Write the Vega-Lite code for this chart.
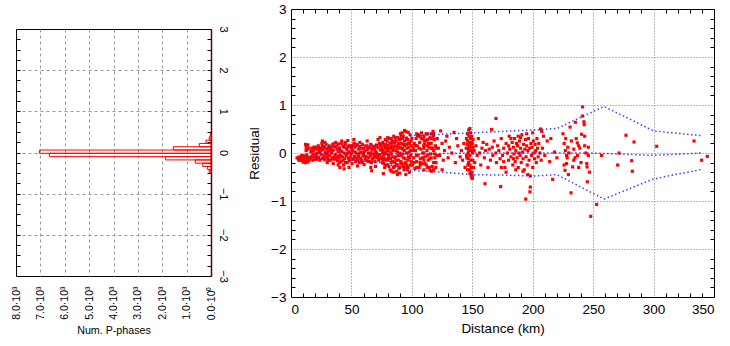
{
"$schema": "https://vega.github.io/schema/vega-lite/v6.json",
"background": "white",
"padding": {"left": 10, "top": 1, "right": 5, "bottom": 0},
"spacing": 18,
"config": {
  "font": "Liberation Sans",
  "view": {"stroke": "black", "strokeWidth": 1},
  "axis": {"labelFont": "Liberation Sans", "titleFont": "Liberation Sans", "titleFontWeight": "normal", "labelColor": "black", "titleColor": "black", "tickColor": "black", "gridOpacity": 1, "minExtent": 0}
},
"datasets": {
  "hist": [
    {"lo": 0.38, "hi": 0.46, "n": 30},
    {"lo": 0.30, "hi": 0.38, "n": 70},
    {"lo": 0.22, "hi": 0.30, "n": 205},
    {"lo": 0.14, "hi": 0.22, "n": 480},
    {"lo": 0.06, "hi": 0.14, "n": 1545},
    {"lo": -0.02, "hi": 0.06, "n": 7040},
    {"lo": -0.10, "hi": -0.02, "n": 6630},
    {"lo": -0.18, "hi": -0.10, "n": 1870},
    {"lo": -0.26, "hi": -0.18, "n": 645},
    {"lo": -0.34, "hi": -0.26, "n": 340},
    {"lo": -0.42, "hi": -0.34, "n": 137},
    {"lo": -0.50, "hi": -0.42, "n": 68}
  ],
  "lines": [
    {"s": "u", "d": 20, "r": 0.12}, {"s": "u", "d": 50, "r": 0.13}, {"s": "u", "d": 75, "r": 0.2}, {"s": "u", "d": 100, "r": 0.36}, {"s": "u", "d": 125, "r": 0.39}, {"s": "u", "d": 150, "r": 0.42}, {"s": "u", "d": 175, "r": 0.45}, {"s": "u", "d": 200, "r": 0.48}, {"s": "u", "d": 220, "r": 0.51}, {"s": "u", "d": 259, "r": 0.97}, {"s": "u", "d": 300, "r": 0.46}, {"s": "u", "d": 340, "r": 0.36},
    {"s": "m", "d": 20, "r": 0.0}, {"s": "m", "d": 50, "r": -0.01}, {"s": "m", "d": 100, "r": -0.02}, {"s": "m", "d": 150, "r": 0.0}, {"s": "m", "d": 200, "r": 0.0}, {"s": "m", "d": 250, "r": 0.0}, {"s": "m", "d": 300, "r": -0.05}, {"s": "m", "d": 340, "r": 0.0},
    {"s": "l", "d": 20, "r": -0.12}, {"s": "l", "d": 50, "r": -0.15}, {"s": "l", "d": 75, "r": -0.2}, {"s": "l", "d": 100, "r": -0.36}, {"s": "l", "d": 125, "r": -0.4}, {"s": "l", "d": 150, "r": -0.45}, {"s": "l", "d": 175, "r": -0.46}, {"s": "l", "d": 200, "r": -0.48}, {"s": "l", "d": 220, "r": -0.45}, {"s": "l", "d": 259, "r": -0.96}, {"s": "l", "d": 300, "r": -0.54}, {"s": "l", "d": 340, "r": -0.34}
  ],
  "pts": [
{"d":5,"r":-0.1},{"d":6,"r":-0.12},{"d":7,"r":-0.08},{"d":7.5,"r":-0.14},{"d":8,"r":-0.1},{"d":8.5,"r":-0.15},{"d":9,"r":-0.12},{"d":9.5,"r":-0.07},{"d":10,"r":-0.16},{"d":10.5,"r":-0.1},{"d":11,"r":-0.13},{"d":11.5,"r":-0.18},{"d":12,"r":-0.09},{"d":12.5,"r":-0.14},{"d":13,"r":-0.11},{"d":13.5,"r":-0.17},{"d":14,"r":-0.08},{"d":14.5,"r":-0.13},{"d":15,"r":-0.15},{"d":15.5,"r":-0.1},{"d":9,"r":-0.05},{"d":11,"r":-0.06},{"d":13,"r":-0.04},{"d":6.5,"r":-0.15},{"d":10,"r":-0.19},{"d":12,"r":-0.2},{"d":14,"r":-0.19},
{"d":12,"r":0.18},{"d":12.5,"r":0.12},{"d":13,"r":0.15},{"d":13.5,"r":0.08},{"d":14,"r":0.17},{"d":12.5,"r":0.05},{"d":15,"r":0.1},
{"d":16,"r":-0.12},{"d":16.5,"r":0.02},{"d":17,"r":-0.08},{"d":17.5,"r":0.1},{"d":18,"r":-0.15},{"d":18.5,"r":0.05},{"d":19,"r":-0.02},{"d":19.5,"r":-0.1},{"d":20,"r":0.12},{"d":20.5,"r":-0.05},{"d":21,"r":0.08},{"d":21.5,"r":-0.13},{"d":22,"r":0.0},{"d":22.5,"r":0.15},{"d":23,"r":-0.09},{"d":23.5,"r":0.05},{"d":24,"r":-0.15},{"d":24.5,"r":0.1},{"d":25,"r":-0.03},{"d":25.5,"r":0.2},{"d":26,"r":-0.11},{"d":26.5,"r":0.07},{"d":27,"r":-0.06},{"d":27.5,"r":0.13},{"d":28,"r":-0.14},{"d":28.5,"r":0.02},{"d":29,"r":0.18},{"d":29.5,"r":-0.08},{"d":30,"r":0.09},{"d":30.5,"r":-0.12},{"d":31,"r":0.04},{"d":31.5,"r":0.15},{"d":32,"r":-0.05},{"d":32.5,"r":-0.15},{"d":33,"r":0.11},{"d":33.5,"r":0.0},{"d":34,"r":-0.1},{"d":34.5,"r":0.17},{"d":35,"r":0.06},{"d":35.5,"r":-0.13},{"d":36,"r":0.13},{"d":36.5,"r":-0.03},{"d":37,"r":0.22},{"d":37.5,"r":-0.09},{"d":38,"r":0.08},{"d":38.5,"r":-0.16},{"d":39,"r":0.03},{"d":39.5,"r":0.19},
{"d":17,"r":0.04},{"d":19,"r":0.12},{"d":21,"r":-0.07},{"d":23,"r":0.1},{"d":25,"r":0.06},{"d":27,"r":-0.12},{"d":29,"r":-0.02},{"d":31,"r":-0.15},{"d":33,"r":0.07},{"d":35,"r":0.19},{"d":37,"r":-0.12},{"d":39,"r":-0.06},{"d":18,"r":-0.04},{"d":20,"r":-0.13},{"d":22,"r":-0.1},{"d":24,"r":0.02},{"d":26,"r":0.14},{"d":28,"r":0.1},{"d":30,"r":-0.02},{"d":32,"r":0.12},{"d":34,"r":0.04},{"d":36,"r":-0.08},{"d":38,"r":0.15},{"d":40,"r":-0.2},{"d":26,"r":0.25},{"d":28,"r":0.22},{"d":30,"r":-0.2},{"d":35,"r":-0.22},{"d":39,"r":-0.25},
{"d":40,"r":0.1},{"d":40.5,"r":-0.3},{"d":41,"r":0.05},{"d":41.5,"r":-0.18},{"d":42,"r":0.2},{"d":42.5,"r":-0.08},{"d":43,"r":0.14},{"d":43.5,"r":-0.25},{"d":44,"r":0.0},{"d":44.5,"r":-0.12},{"d":45,"r":0.18},{"d":45.5,"r":-0.05},{"d":46,"r":0.08},{"d":46.5,"r":-0.2},{"d":47,"r":0.12},{"d":47.5,"r":-0.1},{"d":48,"r":0.03},{"d":48.5,"r":-0.16},{"d":49,"r":0.15},{"d":49.5,"r":-0.04},{"d":50,"r":0.1},{"d":50.5,"r":-0.22},{"d":51,"r":0.05},{"d":51.5,"r":-0.13},{"d":52,"r":0.2},{"d":52.5,"r":-0.07},{"d":53,"r":0.12},{"d":53.5,"r":-0.18},{"d":54,"r":0.0},{"d":54.5,"r":-0.1},{"d":55,"r":0.16},{"d":55.5,"r":-0.03},{"d":56,"r":0.08},{"d":56.5,"r":-0.2},{"d":57,"r":0.13},{"d":57.5,"r":-0.11},{"d":58,"r":0.02},{"d":58.5,"r":-0.15},{"d":59,"r":0.18},{"d":59.5,"r":-0.06},{"d":60,"r":0.1},{"d":60.5,"r":-0.24},{"d":61,"r":0.04},{"d":61.5,"r":-0.12},{"d":62,"r":0.15},{"d":62.5,"r":-0.08},{"d":63,"r":0.07},{"d":63.5,"r":-0.17},{"d":64,"r":0.0},{"d":64.5,"r":-0.1},{"d":65,"r":0.12},{"d":65.5,"r":-0.05},{"d":66,"r":0.18},{"d":66.5,"r":-0.2},{"d":67,"r":0.06},{"d":67.5,"r":-0.13},{"d":68,"r":0.14},{"d":68.5,"r":-0.02},{"d":69,"r":0.09},{"d":69.5,"r":-0.18},{"d":70,"r":0.03},{"d":70.5,"r":-0.1},{"d":71,"r":0.16},{"d":71.5,"r":-0.07},{"d":72,"r":0.11},{"d":72.5,"r":-0.15},{"d":73,"r":0.2},{"d":73.5,"r":-0.04},{"d":74,"r":0.06},{"d":74.5,"r":-0.12},
{"d":40,"r":-0.1},{"d":41,"r":-0.05},{"d":42,"r":0.03},{"d":43,"r":-0.15},{"d":44,"r":0.12},{"d":45,"r":-0.2},{"d":46,"r":-0.02},{"d":47,"r":0.0},{"d":48,"r":0.15},{"d":49,"r":-0.1},{"d":50,"r":0.0},{"d":51,"r":0.15},{"d":52,"r":-0.12},{"d":53,"r":0.02},{"d":54,"r":0.18},{"d":55,"r":-0.15},{"d":56,"r":-0.08},{"d":57,"r":0.0},{"d":58,"r":0.1},{"d":59,"r":-0.2},{"d":60,"r":0.0},{"d":61,"r":-0.06},{"d":62,"r":-0.15},{"d":63,"r":0.12},{"d":64,"r":0.1},{"d":65,"r":-0.18},{"d":66,"r":0.0},{"d":67,"r":0.1},{"d":68,"r":-0.1},{"d":69,"r":-0.05},{"d":70,"r":0.14},{"d":71,"r":0.0},{"d":72,"r":-0.05},{"d":73,"r":-0.1},{"d":74,"r":0.16},{"d":42,"r":0.25},{"d":45,"r":0.22},{"d":48,"r":-0.3},{"d":52,"r":0.28},{"d":57,"r":0.22},{"d":63,"r":0.25},{"d":66,"r":-0.3},{"d":70,"r":-0.28},{"d":72,"r":0.28},{"d":55,"r":-0.27},{"d":44,"r":-0.33},{"d":47,"r":0.26},{"d":66.7,"r":-0.37},{"d":76.4,"r":-0.43},{"d":73.6,"r":0.32},
{"d":75,"r":0.1},{"d":75.5,"r":-0.2},{"d":76,"r":0.22},{"d":76.5,"r":-0.05},{"d":77,"r":0.15},{"d":77.5,"r":-0.3},{"d":78,"r":0.0},{"d":78.5,"r":0.18},{"d":79,"r":-0.12},{"d":79.5,"r":0.25},{"d":80,"r":-0.25},{"d":80.5,"r":0.08},{"d":81,"r":-0.1},{"d":81.5,"r":0.3},{"d":82,"r":-0.35},{"d":82.5,"r":0.12},{"d":83,"r":-0.02},{"d":83.5,"r":0.22},{"d":84,"r":-0.18},{"d":84.5,"r":0.05},{"d":85,"r":0.35},{"d":85.5,"r":-0.28},{"d":86,"r":0.15},{"d":86.5,"r":-0.08},{"d":87,"r":0.25},{"d":87.5,"r":-0.38},{"d":88,"r":0.02},{"d":88.5,"r":0.32},{"d":89,"r":-0.15},{"d":89.5,"r":0.1},{"d":90,"r":-0.3},{"d":90.5,"r":0.4},{"d":91,"r":-0.05},{"d":91.5,"r":0.2},{"d":92,"r":-0.22},{"d":92.5,"r":0.08},{"d":93,"r":0.35},{"d":93.5,"r":-0.35},{"d":94,"r":0.15},{"d":94.5,"r":-0.12},{"d":95,"r":0.45},{"d":95.5,"r":0.0},{"d":96,"r":-0.25},{"d":96.5,"r":0.28},{"d":97,"r":-0.08},{"d":97.5,"r":0.12},{"d":98,"r":-0.4},{"d":98.5,"r":0.38},{"d":99,"r":0.05},{"d":99.5,"r":-0.18},
{"d":75,"r":-0.1},{"d":76,"r":0.05},{"d":77,"r":-0.12},{"d":78,"r":0.28},{"d":79,"r":-0.02},{"d":80,"r":0.15},{"d":81,"r":-0.28},{"d":82,"r":0.02},{"d":83,"r":0.3},{"d":84,"r":-0.08},{"d":85,"r":0.12},{"d":86,"r":-0.2},{"d":87,"r":0.05},{"d":88,"r":-0.25},{"d":89,"r":0.2},{"d":90,"r":0.0},{"d":91,"r":-0.18},{"d":92,"r":0.3},{"d":93,"r":-0.1},{"d":94,"r":0.25},{"d":95,"r":-0.2},{"d":96,"r":0.1},{"d":97,"r":-0.3},{"d":98,"r":0.2},{"d":99,"r":-0.05},{"d":100,"r":0.3},
{"d":75.8,"r":0.0},{"d":76.8,"r":-0.22},{"d":77.8,"r":0.1},{"d":78.8,"r":-0.15},{"d":79.8,"r":0.05},{"d":80.8,"r":-0.05},{"d":81.8,"r":0.2},{"d":82.8,"r":-0.2},{"d":83.8,"r":0.08},{"d":84.8,"r":-0.3},{"d":85.8,"r":0.22},{"d":86.8,"r":-0.15},{"d":87.8,"r":0.12},{"d":88.8,"r":-0.05},{"d":89.8,"r":0.28},{"d":90.8,"r":-0.22},{"d":91.8,"r":0.1},{"d":92.8,"r":-0.28},{"d":93.8,"r":0.05},{"d":94.8,"r":-0.3},{"d":95.8,"r":0.18},{"d":96.8,"r":-0.15},{"d":97.8,"r":0.02},{"d":98.8,"r":-0.25},{"d":99.8,"r":0.15},
{"d":75.3,"r":0.18},{"d":76.3,"r":-0.15},{"d":77.3,"r":0.02},{"d":78.3,"r":-0.25},{"d":79.3,"r":0.12},{"d":80.3,"r":-0.15},{"d":81.3,"r":0.1},{"d":82.3,"r":-0.12},{"d":83.3,"r":0.15},{"d":84.3,"r":0.25},{"d":85.3,"r":-0.1},{"d":86.3,"r":0.32},{"d":87.3,"r":-0.25},{"d":88.3,"r":0.15},{"d":89.3,"r":-0.32},{"d":90.3,"r":0.12},{"d":91.3,"r":0.35},{"d":92.3,"r":-0.02},{"d":93.3,"r":0.18},{"d":94.3,"r":-0.22},{"d":95.3,"r":0.3},{"d":96.3,"r":-0.35},{"d":97.3,"r":0.2},{"d":98.3,"r":-0.1},{"d":99.3,"r":0.25},
{"d":85,"r":-0.4},{"d":90,"r":-0.42},{"d":92,"r":0.42},{"d":94,"r":0.47},{"d":97,"r":0.43},{"d":88,"r":-0.45},{"d":95,"r":-0.45},{"d":80,"r":0.32},{"d":83,"r":-0.38},
{"d":100.5,"r":-0.25},{"d":101,"r":0.1},{"d":101.5,"r":-0.1},{"d":102,"r":0.2},{"d":102.5,"r":-0.32},{"d":103,"r":0.05},{"d":103.5,"r":0.3},{"d":104,"r":-0.18},{"d":104.5,"r":0.15},{"d":105,"r":-0.05},{"d":105.5,"r":0.38},{"d":106,"r":-0.3},{"d":106.5,"r":0.22},{"d":107,"r":-0.12},{"d":107.5,"r":0.08},{"d":108,"r":0.42},{"d":108.5,"r":-0.22},{"d":109,"r":0.0},{"d":109.5,"r":0.3},{"d":110,"r":-0.35},{"d":110.5,"r":0.18},{"d":111,"r":-0.08},{"d":111.5,"r":0.25},{"d":112,"r":-0.25},{"d":112.5,"r":0.05},{"d":113,"r":0.4},{"d":113.5,"r":-0.15},{"d":114,"r":0.12},{"d":114.5,"r":-0.3},{"d":115,"r":0.32},{"d":115.5,"r":-0.02},{"d":116,"r":0.2},{"d":116.5,"r":-0.38},{"d":117,"r":0.1},{"d":117.5,"r":0.45},{"d":118,"r":-0.2},{"d":118.5,"r":0.28},{"d":119,"r":-0.1},{"d":119.5,"r":0.15},
{"d":100.8,"r":0.05},{"d":101.8,"r":-0.2},{"d":102.8,"r":0.15},{"d":103.8,"r":-0.05},{"d":104.8,"r":0.35},{"d":105.8,"r":0.1},{"d":106.8,"r":-0.2},{"d":107.8,"r":0.3},{"d":108.8,"r":-0.1},{"d":109.8,"r":0.15},{"d":110.8,"r":-0.22},{"d":111.8,"r":0.4},{"d":112.8,"r":-0.05},{"d":113.8,"r":0.2},{"d":114.8,"r":-0.12},{"d":115.8,"r":0.1},{"d":116.8,"r":-0.28},{"d":117.8,"r":0.35},{"d":118.8,"r":-0.02},{"d":119.8,"r":-0.3},
{"d":110,"r":0.0},{"d":110,"r":0.1},{"d":110,"r":-0.15},{"d":110,"r":0.35},{"d":110.2,"r":0.25},{"d":113,"r":-0.3},{"d":113,"r":0.15},{"d":113,"r":0.28},{"d":116,"r":0.4},{"d":116,"r":-0.1},{"d":116,"r":0.3},{"d":118,"r":0.05},{"d":118,"r":-0.35},{"d":118,"r":0.4},{"d":107,"r":0.35},{"d":107,"r":-0.25},{"d":104,"r":0.4},{"d":104,"r":-0.3},{"d":120,"r":0.1},{"d":120,"r":-0.2},{"d":121,"r":0.3},{"d":121,"r":-0.05},{"d":115,"r":-0.36},
{"d":122,"r":0.1},{"d":123,"r":-0.05},{"d":123.8,"r":0.46},{"d":125,"r":0.2},{"d":126,"r":-0.15},{"d":127,"r":0.05},{"d":128,"r":0.25},{"d":130,"r":-0.1},{"d":131,"r":0.12},{"d":133,"r":0.0},{"d":134.9,"r":0.43},{"d":136,"r":-0.2},{"d":138,"r":0.15},{"d":140,"r":-0.08},{"d":141,"r":0.05},{"d":143,"r":0.2},{"d":144,"r":-0.3},{"d":125,"r":-0.35},{"d":129,"r":0.35},{"d":137,"r":0.3},{"d":142,"r":-0.15},
{"d":145,"r":0.1},{"d":145.5,"r":-0.1},{"d":146,"r":0.25},{"d":146.5,"r":0.0},{"d":147,"r":-0.2},{"d":147.5,"r":0.15},{"d":148,"r":-0.05},{"d":148.5,"r":0.3},{"d":149,"r":-0.3},{"d":149.5,"r":0.05},{"d":150,"r":0.2},{"d":150.5,"r":-0.15},{"d":145.3,"r":-0.05},{"d":145.8,"r":0.18},{"d":146.3,"r":-0.25},{"d":146.8,"r":0.1},{"d":147.3,"r":0.35},{"d":147.8,"r":-0.35},{"d":148.3,"r":0.05},{"d":148.8,"r":-0.15},{"d":149.3,"r":0.22},{"d":149.8,"r":-0.4},{"d":150.3,"r":0.0},{"d":150.8,"r":0.12},{"d":146,"r":0.4},{"d":147,"r":0.48},{"d":148,"r":-0.42},{"d":149,"r":-0.45},{"d":150,"r":-0.48},{"d":148.5,"r":0.42},{"d":149.2,"r":-0.5},{"d":147.7,"r":0.22},{"d":146.7,"r":-0.12},{"d":145.2,"r":0.3},{"d":149.6,"r":0.35},{"d":148.1,"r":-0.25},{"d":147.1,"r":0.05},{"d":146.1,"r":-0.35},{"d":150.6,"r":0.28},{"d":151,"r":-0.3},{"d":149,"r":0.12},{"d":148,"r":0.15},{"d":150,"r":-0.53},{"d":148,"r":0.51},
{"d":151.5,"r":0.05},{"d":152,"r":-0.2},{"d":153,"r":0.15},{"d":154,"r":-0.05},{"d":155,"r":0.3},{"d":156,"r":0.0},{"d":157,"r":-0.25},{"d":158,"r":0.1},{"d":159,"r":0.22},{"d":160,"r":-0.1},{"d":160.5,"r":-0.64},{"d":161,"r":0.05},{"d":162,"r":0.18},{"d":163,"r":-0.3},{"d":164,"r":0.08},{"d":165,"r":-0.15},{"d":166,"r":0.49},{"d":166.5,"r":0.12},{"d":167,"r":-0.05},{"d":168,"r":0.25},{"d":169.6,"r":0.72},{"d":169.5,"r":0.0},{"d":170,"r":-0.2},{"d":171,"r":0.15},{"d":172,"r":0.05},{"d":173,"r":-0.12},{"d":173.5,"r":-0.7},{"d":174,"r":0.3},{"d":175,"r":-0.05},{"d":176,"r":0.1},{"d":177,"r":-0.3},{"d":178,"r":0.2},{"d":179,"r":0.0},{"d":180,"r":-0.15},{"d":180.5,"r":0.35},{"d":181,"r":0.08},{"d":182,"r":-0.08},{"d":183,"r":0.22},{"d":183.5,"r":-0.25},{"d":184,"r":0.12},{"d":184.5,"r":-0.02},{"d":185,"r":0.3},{"d":185.5,"r":-0.18},{"d":186,"r":0.05},{"d":186.5,"r":0.2},{"d":187,"r":-0.1},{"d":187.5,"r":0.15},{"d":188,"r":-0.3},{"d":188.5,"r":0.0},{"d":189,"r":0.25},{"d":189.5,"r":-0.05},{"d":190,"r":0.1},{"d":190.5,"r":-0.2},{"d":191,"r":0.38},{"d":191.5,"r":0.02},{"d":192,"r":-0.12},{"d":192.5,"r":0.18},{"d":193,"r":-0.35},{"d":193.5,"r":0.08},{"d":194,"r":0.28},{"d":194.2,"r":-0.96},{"d":194.5,"r":-0.08},{"d":195,"r":0.15},{"d":195.5,"r":-0.25},{"d":196,"r":0.05},{"d":196.5,"r":0.3},{"d":197,"r":-0.15},{"d":197.5,"r":0.1},{"d":197.7,"r":-0.81},{"d":198,"r":-0.71},{"d":198.5,"r":0.2},{"d":199,"r":-0.05},{"d":199.5,"r":0.12},{"d":200,"r":-0.3},{"d":200.5,"r":0.25},{"d":201,"r":0.0},{"d":201.5,"r":-0.12},{"d":202,"r":0.18},{"d":202.5,"r":0.05},{"d":203,"r":-0.2},{"d":203.5,"r":0.3},{"d":204,"r":0.1},{"d":204.5,"r":-0.08},{"d":205,"r":0.2},{"d":206,"r":0.0},{"d":206.5,"r":0.5},{"d":207,"r":-0.15},{"d":207.5,"r":0.45},{"d":208,"r":0.1},{"d":209,"r":0.35},{"d":210,"r":-0.05},{"d":212,"r":0.25},{"d":214,"r":-0.18},{"d":215,"r":0.3},{"d":216.5,"r":-0.55},
{"d":176,"r":-0.18},{"d":178,"r":-0.4},{"d":182,"r":0.3},{"d":186,"r":-0.35},{"d":190,"r":0.32},{"d":195,"r":0.4},{"d":198,"r":-0.48},{"d":200,"r":0.42},{"d":196,"r":-0.45},{"d":192,"r":-0.38},{"d":188,"r":0.35},{"d":184,"r":-0.12},{"d":180,"r":0.15},{"d":174,"r":-0.3},
{"d":218,"r":0.02},{"d":220,"r":-0.1},{"d":225,"r":0.4},{"d":226,"r":0.2},{"d":226.7,"r":-0.36},{"d":227,"r":0.05},{"d":227.3,"r":0.3},{"d":228,"r":-0.22},{"d":228.5,"r":-0.1},{"d":229,"r":0.12},{"d":229.5,"r":-0.45},{"d":230,"r":0.0},{"d":230.9,"r":0.54},{"d":231.7,"r":-0.83},{"d":232,"r":0.25},{"d":233,"r":-0.29},{"d":234,"r":0.08},{"d":235,"r":-0.1},{"d":235.3,"r":0.64},{"d":236,"r":0.3},{"d":236.9,"r":0.21},{"d":237,"r":-0.05},{"d":238,"r":0.15},{"d":239,"r":0.1},{"d":240,"r":-0.2},{"d":240.5,"r":0.39},{"d":241.1,"r":0.77},{"d":241.3,"r":0.96},{"d":242.4,"r":0.65},{"d":242.6,"r":0.59},{"d":243,"r":0.15},{"d":244,"r":0.0},{"d":244.7,"r":-0.22},{"d":245,"r":-0.29},{"d":245.2,"r":-0.6},{"d":246,"r":0.12},{"d":247,"r":-0.4},{"d":248,"r":-1.32},{"d":226,"r":-0.25},{"d":228,"r":-0.05},{"d":234,"r":-0.15},{"d":238,"r":-0.3},{"d":243,"r":0.35},{"d":246,"r":-0.05},
{"d":252.9,"r":-1.07},{"d":257,"r":-0.05},{"d":270.3,"r":-0.25},{"d":271.4,"r":0.0},{"d":277.2,"r":0.37},{"d":281.9,"r":-0.16},{"d":282.4,"r":-0.38},{"d":283.8,"r":0.23},{"d":302.6,"r":0.14},{"d":333.5,"r":0.25},{"d":339.8,"r":-0.15},{"d":344.5,"r":-0.07}
  ]
},
"hconcat": [
  {
    "spacing": 0,
    "vconcat": [
      {
        "width": 195,
        "height": 16,
        "view": {"stroke": null},
        "data": {"values": [{}]},
        "mark": {"type": "point", "opacity": 0}
      },
      {
        "width": 195,
        "height": 247,
        "layer": [
          {
            "data": {"name": "hist"},
            "mark": {"type": "rect", "stroke": "red", "strokeWidth": 1, "fillOpacity": 0, "fill": "white"},
            "encoding": {
              "x": {"field": "n", "type": "quantitative",
                    "scale": {"domain": [0, 8000], "reverse": true, "nice": false},
                    "axis": {"orient": "bottom", "values": [0,1000,2000,3000,4000,5000,6000,7000,8000],
                             "labelExpr": "datum.value == 0 ? '0.0·10⁰' : format(datum.value/1000, '.1f') + '·10³'",
                             "labelAngle": 270, "labelFontSize": 10.5, "labelPadding": 10, "labelOverlap": false, "labelBound": false, "ticks": false,
                             "grid": true, "gridDash": [3, 3], "gridColor": "#999999",
                             "gridOpacity": {"condition": {"test": "datum.value == 0 || datum.value == 8000", "value": 0}, "value": 1},
                             "domain": false,
                             "title": "Num. P-phases", "titleFontSize": 10.7, "titlePadding": 6}},
              "x2": {"datum": 0},
              "y": {"field": "lo", "type": "quantitative",
                    "scale": {"domain": [-3, 3], "nice": false},
                    "axis": {"orient": "right", "values": [-3,-2,-1,0,1,2,3], "labelAngle": 90, "labelFontSize": 11,
                             "labelPadding": 6, "ticks": false, "grid": true, "gridDash": [3, 3], "gridColor": "#999999",
                             "gridOpacity": {"condition": {"test": "abs(datum.value) == 3", "value": 0}, "value": 1},
                             "domain": true, "domainColor": "#5c0000", "domainWidth": 1.5, "title": null}},
              "y2": {"field": "hi"}
            }
          },
          {
            "data": {"name": "hist"},
            "mark": {"type": "point", "opacity": 0},
            "encoding": {
              "x": {"field": "n", "type": "quantitative", "axis": null},
              "y": {"field": "lo", "type": "quantitative",
                    "axis": {"orient": "right", "offset": -195, "values": [-2.75,-2.5,-2.25,-2,-1.75,-1.5,-1.25,-1,-0.75,-0.5,-0.25,0,0.25,0.5,0.75,1,1.25,1.5,1.75,2,2.25,2.5,2.75],
                             "labels": false, "grid": false, "domain": false, "tickSize": 4, "title": null}}
            }
          },
          {
            "data": {"name": "hist"},
            "mark": {"type": "point", "opacity": 0},
            "encoding": {
              "x": {"field": "n", "type": "quantitative", "axis": null},
              "y": {"field": "lo", "type": "quantitative",
                    "axis": {"orient": "left", "offset": -195, "values": [-2.75,-2.5,-2.25,-2,-1.75,-1.5,-1.25,-1,-0.75,-0.5,-0.25,0,0.25,0.5,0.75,1,1.25,1.5,1.75,2,2.25,2.5,2.75],
                             "labels": false, "grid": false, "domain": false, "tickSize": 4, "title": null}}
            }
          }
        ],
        "resolve": {"axis": {"x": "independent", "y": "independent"}}
      }
    ]
  },
  {
    "width": 423,
    "height": 288,
    "layer": [
      {
        "data": {"name": "pts"},
        "mark": {"type": "square", "color": "red", "size": 10, "opacity": 1},
        "encoding": {
          "x": {"field": "d", "type": "quantitative", "scale": {"domain": [0, 350], "nice": false},
                "axis": {"orient": "bottom", "values": [0,50,100,150,200,250,300,350], "labelFontSize": 13.5, "labelPadding": 5,
                         "ticks": false, "grid": true, "gridDash": [1, 2], "gridColor": "#777777",
                         "gridOpacity": {"condition": {"test": "datum.value == 0 || datum.value == 350", "value": 0}, "value": 1},
                         "domain": false,
                         "title": "Distance (km)", "titleFontSize": 13.5, "titlePadding": 6}},
          "y": {"field": "r", "type": "quantitative", "scale": {"domain": [-3, 3], "nice": false},
                "axis": {"orient": "left", "values": [-3,-2,-1,0,1,2,3], "labelFontSize": 13.5, "labelPadding": 5,
                         "ticks": false, "grid": true, "gridDash": [1, 2], "gridColor": "#777777",
                         "gridOpacity": {"condition": {"test": "abs(datum.value) == 3", "value": 0}, "value": 1},
                         "domain": false,
                         "title": "Residual", "titleFontSize": 13.5, "titlePadding": 9}}
        }
      },
      {
        "data": {"name": "lines"},
        "mark": {"type": "line", "color": "#2020ff", "strokeWidth": 1.5, "strokeDash": [1.5, 2.5], "opacity": 0.85},
        "encoding": {
          "x": {"field": "d", "type": "quantitative",
                "axis": {"orient": "top", "offset": -288, "values": [10,20,30,40,60,70,80,90,110,120,130,140,160,170,180,190,210,220,230,240,260,270,280,290,310,320,330,340],
                         "labels": false, "grid": false, "domain": false, "tickSize": 4, "title": null}},
          "y": {"field": "r", "type": "quantitative",
                "axis": {"orient": "right", "offset": -423, "values": [-2.8,-2.6,-2.4,-2.2,-1.8,-1.6,-1.4,-1.2,-0.8,-0.6,-0.4,-0.2,0.2,0.4,0.6,0.8,1.2,1.4,1.6,1.8,2.2,2.4,2.6,2.8],
                         "labels": false, "grid": false, "domain": false, "tickSize": 4, "title": null}},
          "detail": {"field": "s", "type": "nominal"}
        }
      },
      {
        "data": {"name": "lines"},
        "mark": {"type": "point", "opacity": 0},
        "encoding": {
          "x": {"field": "d", "type": "quantitative",
                "axis": {"orient": "bottom", "offset": -288, "values": [10,20,30,40,60,70,80,90,110,120,130,140,160,170,180,190,210,220,230,240,260,270,280,290,310,320,330,340],
                         "labels": false, "grid": false, "domain": false, "tickSize": 4, "title": null}},
          "y": {"field": "r", "type": "quantitative",
                "axis": {"orient": "left", "offset": -423, "values": [-2.8,-2.6,-2.4,-2.2,-1.8,-1.6,-1.4,-1.2,-0.8,-0.6,-0.4,-0.2,0.2,0.4,0.6,0.8,1.2,1.4,1.6,1.8,2.2,2.4,2.6,2.8],
                         "labels": false, "grid": false, "domain": false, "tickSize": 4, "title": null}}
        }
      }
    ],
    "resolve": {"axis": {"x": "independent", "y": "independent"}}
  }
]
}
